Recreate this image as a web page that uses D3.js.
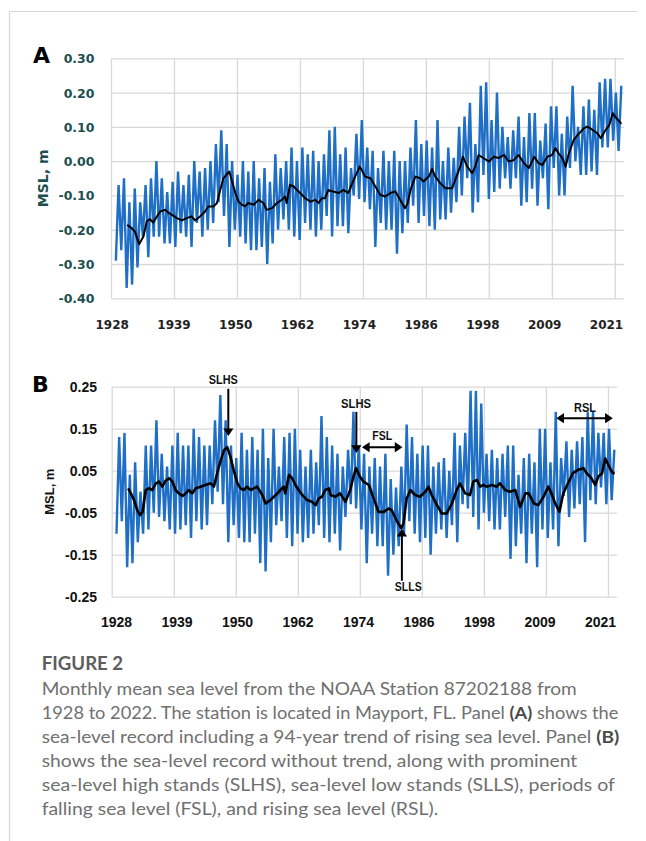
<!DOCTYPE html>
<html><head><meta charset="utf-8">
<script src="https://cdn.jsdelivr.net/npm/d3@7"></script>
<style>body{margin:0;background:#fff} svg{display:block}</style>
</head><body>
<svg id="c" width="646" height="841"></svg>
<script>
// ---------------- DATA ----------------
const years = d3.range(1929, 2023); // yearly cycles (winter low, autumn high)
const tickPos = [1928, 1939.65, 1951.3, 1962.95, 1974.6, 1986.25, 1997.9, 2009.55, 2021.2];
const tickLabels = ["1928","1939","1950","1962","1974","1986","1998","2009","2021"];
const yTicksA = [0.30, 0.20, 0.10, 0.00, -0.10, -0.20, -0.30, -0.40];
const yTicksB = [0.25, 0.15, 0.05, -0.05, -0.15, -0.25];

// Panel A: monthly MSL envelope per year (high, low), m
const hiA = [-0.07,-0.05,-0.12,-0.08,-0.12,-0.07,-0.05,0.00,-0.05,-0.09,
  -0.06,-0.03,-0.07,-0.04,0.00,-0.03,-0.02,0.00,0.05,0.09,
  0.05,0.00,-0.04,0.00,-0.03,0.00,-0.05,-0.02,-0.06,0.02,
  -0.02,0.00,0.04,0.00,0.04,0.02,0.03,0.00,0.02,0.09,
  0.10,0.02,0.04,-0.02,0.08,0.12,0.04,0.03,-0.02,0.03,
  0.00,0.03,0.00,0.00,0.04,0.12,0.05,0.06,0.04,0.12,
  0.00,0.04,0.01,0.10,0.13,0.17,0.05,0.22,0.23,0.12,
  0.20,0.10,0.07,0.09,0.13,0.07,0.14,0.14,0.06,0.11,
  0.16,0.16,0.08,0.13,0.22,0.10,0.16,0.18,0.15,0.23,
  0.24,0.24,0.20,0.22];
const loA = [-0.29,-0.26,-0.37,-0.36,-0.31,-0.22,-0.28,-0.22,-0.22,-0.24,
  -0.24,-0.25,-0.21,-0.22,-0.25,-0.18,-0.22,-0.20,-0.18,-0.12,
  -0.16,-0.25,-0.20,-0.22,-0.24,-0.26,-0.26,-0.25,-0.30,-0.24,
  -0.20,-0.17,-0.20,-0.22,-0.23,-0.18,-0.20,-0.22,-0.20,-0.16,
  -0.22,-0.19,-0.19,-0.21,-0.10,-0.11,-0.12,-0.14,-0.25,-0.18,
  -0.20,-0.20,-0.27,-0.21,-0.18,-0.13,-0.18,-0.16,-0.19,-0.20,
  -0.17,-0.17,-0.15,-0.12,-0.10,-0.05,-0.15,-0.12,-0.04,-0.11,
  -0.09,-0.08,-0.05,-0.08,-0.05,-0.13,-0.12,-0.08,-0.13,-0.05,
  -0.14,-0.02,-0.10,-0.10,-0.02,0.00,-0.04,-0.04,-0.03,-0.04,
  0.04,0.04,0.06,0.03];
// Panel A: running mean [year, m]
const meanA = [[1931.0,-0.186],[1931.8,-0.195],[1932.4,-0.205],[1933.2,-0.242],[1934.0,-0.220],[1934.6,-0.176],[1935.2,-0.169],[1935.8,-0.179],[1936.5,-0.161],[1937.1,-0.147],[1938.0,-0.142],[1938.6,-0.150],[1939.2,-0.156],[1940.2,-0.166],[1941.1,-0.173],[1942.0,-0.166],[1942.9,-0.161],[1943.6,-0.173],[1944.5,-0.161],[1945.4,-0.147],[1946.0,-0.132],[1947.0,-0.132],[1947.6,-0.122],[1948.2,-0.084],[1948.8,-0.050],[1949.9,-0.030],[1950.3,-0.054],[1951.0,-0.093],[1951.6,-0.118],[1952.2,-0.127],[1952.8,-0.132],[1953.4,-0.122],[1954.4,-0.127],[1955.3,-0.113],[1956.2,-0.122],[1956.8,-0.142],[1957.8,-0.137],[1958.7,-0.122],[1959.6,-0.113],[1960.2,-0.103],[1960.5,-0.122],[1961.1,-0.069],[1961.8,-0.074],[1962.4,-0.084],[1963.0,-0.093],[1963.9,-0.108],[1964.9,-0.118],[1965.8,-0.113],[1966.4,-0.122],[1967.0,-0.108],[1967.6,-0.108],[1968.2,-0.084],[1968.9,-0.088],[1970.1,-0.093],[1971.0,-0.084],[1971.9,-0.093],[1972.9,-0.054],[1974.0,-0.016],[1974.4,-0.026],[1975.0,-0.045],[1976.0,-0.050],[1976.9,-0.074],[1977.8,-0.098],[1978.7,-0.103],[1979.7,-0.093],[1980.6,-0.088],[1981.5,-0.113],[1982.4,-0.137],[1982.9,-0.122],[1983.4,-0.084],[1984.3,-0.045],[1985.2,-0.050],[1985.8,-0.059],[1986.8,-0.045],[1987.4,-0.023],[1988.0,-0.045],[1988.9,-0.064],[1989.9,-0.079],[1991.1,-0.079],[1991.7,-0.054],[1992.6,-0.016],[1993.1,0.013],[1993.9,-0.016],[1994.8,-0.035],[1995.4,-0.016],[1996.0,0.018],[1996.9,0.009],[1997.9,-0.001],[1998.8,0.013],[1999.7,0.009],[2000.7,0.018],[2001.6,-0.001],[2002.5,0.003],[2003.4,0.018],[2004.4,-0.006],[2005.3,-0.020],[2006.3,0.013],[2007.1,-0.006],[2007.8,-0.011],[2008.7,0.013],[2009.6,0.018],[2010.2,0.038],[2010.8,0.023],[2011.5,0.009],[2012.1,-0.016],[2012.7,0.023],[2013.6,0.062],[2014.6,0.081],[2015.5,0.096],[2016.1,0.101],[2017.1,0.091],[2018.0,0.081],[2018.6,0.067],[2019.3,0.086],[2020.2,0.106],[2020.8,0.140],[2021.5,0.125],[2022.1,0.115],[2022.4,0.109]];

// Panel B: detrended envelope per year (high, low), m
const hiB = [0.13,0.14,0.04,0.07,0.00,0.11,0.11,0.17,0.09,0.06,
  0.11,0.14,0.11,0.11,0.15,0.13,0.11,0.11,0.17,0.23,
  0.17,0.11,0.08,0.14,0.10,0.13,0.10,0.15,0.08,0.15,
  0.06,0.13,0.14,0.15,0.10,0.06,0.10,0.07,0.18,0.13,
  0.11,0.09,0.06,0.10,0.19,0.11,0.09,0.06,0.08,0.06,
  0.09,0.03,0.01,0.06,0.16,0.13,0.09,0.11,0.11,0.06,
  0.07,0.08,0.05,0.14,0.11,0.14,0.24,0.24,0.21,0.09,
  0.10,0.08,0.09,0.11,0.11,0.04,0.08,0.09,0.07,0.15,
  0.15,0.07,0.19,0.08,0.12,0.10,0.12,0.13,0.19,0.19,
  0.14,0.14,0.15,0.10];
const loB = [-0.10,-0.07,-0.18,-0.17,-0.12,-0.10,-0.09,-0.05,-0.06,-0.07,
  -0.09,-0.10,-0.09,-0.08,-0.11,-0.07,-0.09,-0.08,-0.03,0.00,
  -0.03,-0.12,-0.08,-0.11,-0.12,-0.12,-0.10,-0.17,-0.19,-0.12,
  -0.08,-0.07,-0.11,-0.13,-0.10,-0.12,-0.11,-0.10,-0.08,-0.11,
  -0.12,-0.10,-0.14,-0.06,-0.03,-0.04,-0.09,-0.17,-0.10,-0.13,
  -0.13,-0.20,-0.15,-0.13,-0.10,-0.07,-0.10,-0.12,-0.11,-0.15,
  -0.10,-0.09,-0.11,-0.08,-0.12,-0.03,-0.04,-0.06,-0.09,-0.05,
  -0.07,-0.09,-0.09,-0.06,-0.16,-0.13,-0.10,-0.17,-0.10,-0.18,
  -0.09,-0.11,-0.09,-0.13,-0.01,-0.06,-0.04,-0.03,-0.12,-0.02,
  -0.03,0.01,-0.03,-0.02];
const meanB = [[1931.1,0.008],[1931.6,-0.004],[1932.2,-0.020],[1932.8,-0.044],[1933.3,-0.056],[1933.8,-0.048],[1934.4,0.004],[1935.0,0.008],[1935.6,0.004],[1936.3,0.020],[1936.9,0.024],[1937.5,0.012],[1938.1,0.026],[1938.8,0.032],[1939.4,0.024],[1940.0,0.004],[1940.6,-0.004],[1941.3,-0.010],[1941.9,-0.004],[1942.5,0.004],[1943.1,-0.004],[1943.8,0.008],[1944.7,0.012],[1945.6,0.016],[1946.6,0.020],[1947.2,0.012],[1947.8,0.044],[1948.4,0.071],[1949.1,0.099],[1949.7,0.106],[1950.3,0.083],[1950.9,0.052],[1951.6,0.020],[1952.2,0.008],[1952.8,0.004],[1953.4,0.012],[1954.1,0.004],[1954.7,0.008],[1955.3,0.012],[1956.3,-0.008],[1956.9,-0.028],[1957.8,-0.020],[1958.8,-0.008],[1959.7,0.004],[1960.3,0.012],[1960.6,-0.004],[1961.3,0.040],[1961.9,0.032],[1962.5,0.016],[1963.1,0.004],[1963.8,-0.008],[1964.7,-0.020],[1965.6,-0.024],[1966.3,-0.032],[1966.9,-0.016],[1967.5,-0.012],[1968.1,0.004],[1968.8,0.008],[1969.1,-0.008],[1970.0,-0.012],[1970.9,-0.004],[1971.9,-0.024],[1972.8,0.004],[1973.4,0.036],[1973.9,0.056],[1974.6,0.036],[1975.3,0.024],[1976.3,0.016],[1977.2,-0.016],[1978.1,-0.048],[1979.1,-0.048],[1980.0,-0.040],[1980.6,-0.044],[1981.6,-0.071],[1982.4,-0.087],[1982.8,-0.075],[1983.4,-0.016],[1984.1,0.004],[1985.0,-0.008],[1985.9,-0.012],[1986.9,0.000],[1987.5,0.012],[1988.1,-0.008],[1989.1,-0.032],[1990.0,-0.052],[1990.9,-0.052],[1991.9,-0.028],[1992.8,0.004],[1993.4,0.020],[1994.4,-0.004],[1995.3,-0.008],[1995.9,0.024],[1996.6,0.028],[1997.2,0.012],[1997.8,0.016],[1998.4,0.012],[1999.4,0.016],[2000.3,0.012],[2000.9,0.020],[2001.9,0.004],[2002.8,0.000],[2003.8,0.004],[2004.7,-0.036],[2005.7,-0.004],[2006.3,-0.004],[2007.3,-0.028],[2008.1,-0.032],[2009.1,-0.012],[2010.0,0.012],[2010.6,-0.004],[2011.3,-0.028],[2012.1,-0.048],[2012.8,-0.004],[2013.7,0.020],[2014.6,0.044],[2015.6,0.052],[2016.6,0.056],[2017.2,0.044],[2018.1,0.032],[2018.8,0.016],[2019.4,0.036],[2020.1,0.044],[2020.7,0.079],[2021.3,0.063],[2021.9,0.048],[2022.4,0.042]];

// Panel B annotations (data units)
const arrowsV = [
  {label:"SLHS", x:1949.9, from:0.245, to:0.135, tx:1948.95, ty:0.256, tl:29},
  {label:"SLHS", x:1973.95, from:0.190, to:0.095, tx:1973.9, ty:0.199, tl:30},
  {label:"SLLS", x:1982.5, from:-0.212, to:-0.091, tx:1983.7, ty:-0.237, tl:27}
];
const arrowsH = [
  {label:"FSL", x0:1975.2, x1:1982.4, y:0.106, tx:1978.8, ty:0.123, tl:20},
  {label:"RSL", x0:2011.7, x1:2021.9, y:0.175, tx:2016.9, ty:0.189, tl:22}
];

// ---------------- DRAW ----------------
const svg = d3.select("#c");
const GRID = "#d9d9d9", BLUE = "#1f6fc6";

// outer frame
svg.append("line").attr("x1",9).attr("x2",637).attr("y1",11.5).attr("y2",11.5).attr("stroke","#d6d6d6").attr("stroke-width",1.2);
svg.append("line").attr("x1",9.5).attr("x2",9.5).attr("y1",11.5).attr("y2",841).attr("stroke","#d6d6d6").attr("stroke-width",1.2);

function series(hi, lo) {
  const pts = [];
  years.forEach((yr, i) => { pts.push([yr - 0.1, lo[i]]); pts.push([yr + 0.4, hi[i]]); });
  return pts;
}

function panel(o) {
  const g = svg.append("g");
  const [x0, x1] = o.x.range();
  const [yb, yt] = o.y.range();
  // horizontal grid
  g.append("g").attr("transform", `translate(${x0},0)`)
    .call(d3.axisLeft(o.y).tickValues(o.yTicks).tickSize(-(x1 - x0)).tickFormat(""))
    .call(s => { s.select(".domain").remove(); s.selectAll("line").attr("stroke", GRID).attr("stroke-width", 1.3); });
  // vertical grid
  g.append("g").attr("transform", `translate(0,${yb})`)
    .call(d3.axisBottom(o.x).tickValues(tickPos).tickSize(-(yb - yt)).tickFormat(""))
    .call(s => { s.select(".domain").remove(); s.selectAll("line").attr("stroke", GRID).attr("stroke-width", 1.3); });
  // y labels
  g.append("g").attr("transform", `translate(${o.yLabelX},0)`)
    .call(d3.axisLeft(o.y).tickValues(o.yTicks).tickSize(0).tickPadding(0).tickFormat(d => d.toFixed(2)))
    .call(s => { s.select(".domain").remove();
      s.selectAll("text").attr("font-family", o.font).attr("font-weight","bold").attr("font-size", o.yFs).attr("fill", o.yColor).attr("dy","0.36em"); });
  // x labels
  g.append("g").attr("transform", `translate(0,${o.xLabelY})`)
    .call(d3.axisBottom(o.xl).tickValues(tickPos).tickSize(0).tickPadding(0).tickFormat((d, i) => tickLabels[i]))
    .call(s => { s.select(".domain").remove();
      s.selectAll("text").attr("font-family", o.font).attr("font-weight","bold").attr("font-size", o.xFs).attr("fill", o.xColor).attr("dy","0"); });
  // blue monthly line
  const line = d3.line().x(d => o.x(d[0])).y(d => o.y(d[1]));
  g.append("path").datum(series(o.hi, o.lo)).attr("d", line)
    .attr("fill","none").attr("stroke", BLUE).attr("stroke-width", 2.4).attr("stroke-linejoin","miter");
  // running mean
  g.append("path").datum(o.mean).attr("d", line)
    .attr("fill","none").attr("stroke", "#000").attr("stroke-width", o.meanW).attr("stroke-linejoin","round");
  // panel letter
  g.append("text").attr("x", o.letterX).attr("y", o.letterY).text(o.letter)
    .attr("font-family","DejaVu Sans").attr("font-weight","bold").attr("font-size",22).attr("fill","#000");
  // axis title
  g.append("text").attr("transform", `translate(${o.titleX},${(yb + yt) / 2}) rotate(-90)`)
    .attr("text-anchor","middle").text("MSL, m")
    .attr("font-family", o.font).attr("font-weight","bold").attr("font-size", o.titleFs).attr("fill", o.yColor);
  return g;
}

const xA = d3.scaleLinear().domain([1928, 2022.9]).range([111, 624]);
const yA = d3.scaleLinear().domain([-0.40, 0.30]).range([298.3, 58.3]);
const xAl = d3.scaleLinear().domain([1928, 2021.2]).range([111.7, 606]);
panel({x:xA, y:yA, xl:xAl, yTicks:yTicksA, hi:hiA, lo:loA, mean:meanA, meanW:2,
  font:"DejaVu Sans", yFs:12.5, xFs:12, yColor:"#1d4f50", xColor:"#222",
  yLabelX:94.5, xLabelY:329, letter:"A", letterX:33, letterY:63, titleX:48, titleFs:14});

const xB = d3.scaleLinear().domain([1928, 2022.9]).range([111.7, 617]);
const yB = d3.scaleLinear().domain([-0.25, 0.25]).range([596.7, 386.7]);
const xBl = d3.scaleLinear().domain([1928, 2021.2]).range([116, 600]);
const gB = panel({x:xB, y:yB, xl:xBl, yTicks:yTicksB, hi:hiB, lo:loB, mean:meanB, meanW:2.6,
  font:"Liberation Sans, Arial, sans-serif", yFs:14, xFs:14, yColor:"#111", xColor:"#111",
  yLabelX:97, xLabelY:627, letter:"B", letterX:32, letterY:391.5, titleX:54, titleFs:13});

// annotations
const ann = svg.append("g");
const AF = "Liberation Sans, Arial, sans-serif";
function head(x, y, dx, dy) { // arrowhead at tip (x,y), pointing direction (dx,dy)
  const L = 6, W = 4;
  const bx = x - dx * L, by = y - dy * L;
  const px = -dy * W, py = dx * W;
  ann.append("path").attr("d", `M${bx+px},${by+py}L${x},${y}L${bx-px},${by-py}Z`)
    .attr("fill","#000").attr("stroke","#000").attr("stroke-width",1.2).attr("stroke-linejoin","miter");
}
function label(t, x, y, tl) {
  ann.append("text").attr("x", x).attr("y", y).attr("text-anchor","middle").text(t)
    .attr("font-family", AF).attr("font-weight","bold").attr("font-size",12).attr("fill","#111")
    .attr("textLength", tl).attr("lengthAdjust","spacingAndGlyphs");
}
arrowsV.forEach(a => {
  const x = xB(a.x), y0 = yB(a.from), y1 = yB(a.to);
  const dir = y1 > y0 ? 1 : -1;
  ann.append("line").attr("x1", x).attr("x2", x).attr("y1", y0).attr("y2", y1 - dir * 3)
    .attr("stroke","#000").attr("stroke-width",2);
  head(x, y1, 0, dir);
  label(a.label, xB(a.tx), yB(a.ty), a.tl);
});
arrowsH.forEach(a => {
  const xa = xB(a.x0), xb = xB(a.x1), y = yB(a.y);
  ann.append("line").attr("x1", xa + 3).attr("x2", xb - 3).attr("y1", y).attr("y2", y)
    .attr("stroke","#000").attr("stroke-width",2);
  head(xa, y, -1, 0); head(xb, y, 1, 0);
  label(a.label, xB(a.tx), yB(a.ty), a.tl);
});

// ---------------- CAPTION ----------------
const cap = svg.append("g").attr("font-family","Lato, Open Sans, sans-serif").attr("fill","#707070");
cap.append("text").attr("x",41.7).attr("y",670).text("FIGURE 2")
  .attr("font-weight","bold").attr("font-size",18).attr("fill","#5c5c5c")
  .attr("textLength",81.5).attr("lengthAdjust","spacingAndGlyphs");
const capLines = [
  {parts:[["Monthly mean sea level from the NOAA Station 87202188 from",0]], end:576.7},
  {parts:[["1928 to 2022. The station is located in Mayport, FL. Panel ",0],["(A)",1],[" shows the",0]], end:618.3},
  {parts:[["sea-level record including a 94-year trend of rising sea level. Panel ",0],["(B)",1]], end:619.3},
  {parts:[["shows the sea-level record without trend, along with prominent",0]], end:577.3},
  {parts:[["sea-level high stands (SLHS), sea-level low stands (SLLS), periods of",0]], end:615},
  {parts:[["falling sea level (FSL), and rising sea level (RSL).",0]], end:438.3}
];
capLines.forEach((ln, i) => {
  const t = cap.append("text").attr("x",41.7).attr("y",695 + i * 24)
    .attr("font-size",17.5).attr("textLength", ln.end - 41.7).attr("lengthAdjust","spacingAndGlyphs");
  ln.parts.forEach(p => t.append("tspan").text(p[0])
    .attr("font-weight", p[1] ? "bold" : "normal").attr("fill", p[1] ? "#4a4a4a" : null));
});
</script>
</body></html>
